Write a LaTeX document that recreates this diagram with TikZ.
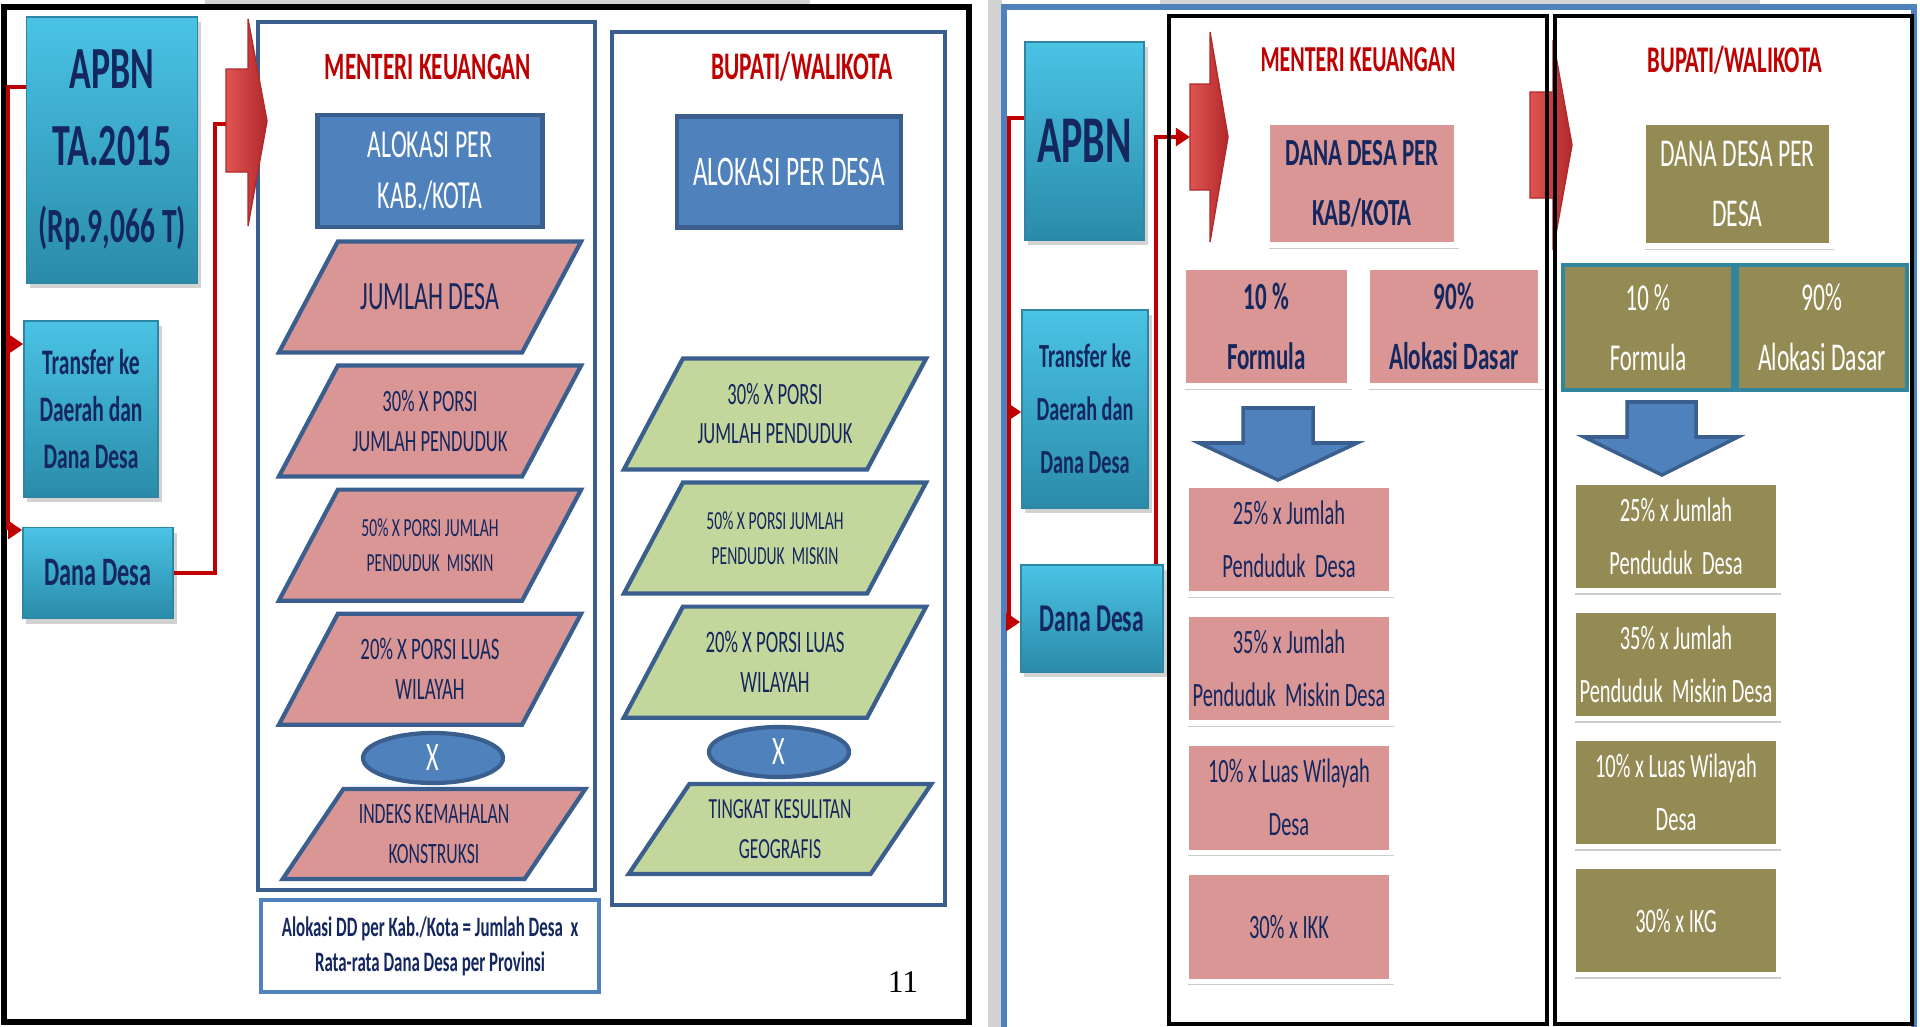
\documentclass[tikz,border=0pt]{standalone}
\usepackage{fontspec}
\setmainfont{Carlito}[FakeStretch=0.6]
\newfontfamily\pagefont{Liberation Serif}
\usetikzlibrary{positioning,shapes.geometric,shadows,arrows.meta}
\definecolor{navy}{HTML}{14275F}
\definecolor{headred}{HTML}{C00000}
\definecolor{linkred}{HTML}{C00000}
\definecolor{cyantop}{HTML}{4AC3E5}
\definecolor{cyanbot}{HTML}{2A8BA9}
\definecolor{cyanedge}{HTML}{2E86A2}
\definecolor{accblue}{HTML}{4F81BD}
\definecolor{accdark}{HTML}{3A5F8E}
\definecolor{ddpink}{HTML}{D99694}
\definecolor{ddlime}{HTML}{C3D69B}
\definecolor{ddolive}{HTML}{948A54}
\definecolor{ddteal}{HTML}{31859C}
\definecolor{arrowA}{HTML}{DE5552}
\definecolor{arrowB}{HTML}{B3292B}
\definecolor{band}{HTML}{D3D3D3}
\newcommand{\fsz}[2]{\fontsize{#1}{#2}\selectfont}

\begin{document}
\begin{tikzpicture}
[x=0.01cm, y=-0.01cm, node distance=1.24cm, font=\small]
\tikzstyle{srcbox}=[rectangle, draw=cyanedge, top color=cyantop, bottom color=cyanbot, text=navy, align=center, inner sep=1pt, drop shadow={opacity=0.35, shadow xshift=1pt, shadow yshift=-1.5pt}]
\tikzstyle{ttl}=[text=headred, inner sep=1pt]
\tikzstyle{bluebox}=[rectangle, draw=accdark, line width=1.2pt, fill=accblue, text=white, align=center]
\tikzstyle{para}=[trapezium, trapezium left angle=62, trapezium right angle=118, trapezium stretches body, draw=accdark, line width=1.2pt, text=navy, minimum width=3cm, minimum height=1.11cm, inner xsep=2pt, inner ysep=0.105cm, execute at begin node={\begin{minipage}[c][0.9cm][c]{1.70cm}\centering}, execute at end node={\end{minipage}}]
\tikzstyle{parashort}=[trapezium, trapezium left angle=56, trapezium right angle=124, trapezium stretches body, draw=accdark, line width=1.2pt, text=navy, minimum width=3.02cm, minimum height=0.9cm, inner xsep=2pt, inner ysep=0.105cm, execute at begin node={\begin{minipage}[c][0.69cm][c]{1.67cm}\centering}, execute at end node={\end{minipage}}]
\tikzstyle{xoval}=[ellipse, draw=accdark, line width=1.2pt, fill=accblue, text=white, minimum width=1.4cm, minimum height=0.5cm, inner sep=0pt, font=\fsz{11.5}{12}]
\tikzstyle{card}=[rectangle, draw=white, line width=1.5pt, align=center, inner sep=1pt, drop shadow={opacity=0.4, shadow xshift=0.5pt, shadow yshift=-1.2pt}]
\tikzstyle{tealbox}=[rectangle, draw=ddteal, line width=1.2pt, fill=ddolive, text=white, align=center, inner sep=1pt]
\tikzstyle{redline}=[draw=linkred, line width=1.3pt]
\tikzstyle{arr}=[-{Triangle[length=4pt, width=5pt]}]
\tikzstyle{bigarrow}=[left color=arrowA, right color=arrowB, draw=arrowB, line width=0.4pt]
\tikzstyle{downarrow}=[fill=accblue, draw=accdark, line width=1pt]
\tikzstyle{panel}=[draw=accdark, line width=1pt]

\useasboundingbox (0,0) rectangle (1920,1027);
\fill[white] (0,0) rectangle (1920,1027);
\fill[band] (205,0) rectangle (810,5);
\fill[band] (1160,0) rectangle (1760,4);
\fill[band] (988,0) rectangle (1002,1027);
\draw[line width=1.6pt] (4,7) rectangle (969,1022);
\draw[draw=accblue, line width=1.6pt] (1004,7) rectangle (1914,1040);
\draw[panel] (258,22) rectangle (595,890);
\draw[panel] (612,32) rectangle (945,905);

\node[srcbox, minimum width=1.71cm, minimum height=2.66cm, font=\bfseries\fsz{17}{22}]	(A0)	at (112,150)	{APBN\\TA.2015\\{\fsz{14}{22}(Rp.9,066 T)}};
\node[srcbox, minimum width=1.34cm, minimum height=1.76cm, font=\bfseries\fsz{10.2}{13.3}]	(T0)	at (91,409)	{Transfer ke\\Daerah dan\\Dana Desa};
\node[srcbox, minimum width=1.50cm, minimum height=0.91cm, font=\bfseries\fsz{11.5}{14}]	(D0)	at (98,573)	{Dana Desa};

\node[ttl, font=\bfseries\fsz{11}{12}]	(MK0)	at (428,67)	{MENTERI KEUANGAN};
\node[bluebox, minimum width=2.25cm, minimum height=1.12cm, font=\fsz{11.3}{14.5}]	(K0)	at (430,171)	{ALOKASI PER\\KAB./KOTA};
\node[para, fill=ddpink, font=\fsz{11.4}{14}]	(J0)	at (430,297)	{JUMLAH DESA};
\node[para, fill=ddpink, font=\fsz{8.8}{11.1}, below of=J0]	(P0)	{30\% X PORSI\\JUMLAH PENDUDUK};
\node[para, fill=ddpink, font=\fsz{7.4}{10}, below of=P0]	(M0)	{50\% X PORSI JUMLAH\\PENDUDUK\ \ MISKIN};
\node[para, fill=ddpink, font=\fsz{8.9}{11.4}, below of=M0]	(W0)	{20\% X PORSI LUAS\\WILAYAH};
\node[xoval]	(X0)	at (433,758)	{X};
\node[parashort, fill=ddpink, font=\fsz{8.4}{11.4}]	(I0)	at (434,834)	{INDEKS KEMAHALAN\\KONSTRUKSI};
\node[rectangle, draw=accblue, line width=1.3pt, minimum width=3.38cm, minimum height=0.92cm, text=navy, align=center, font=\bfseries\fsz{8}{10}]	(F0)	at (430,946)	{Alokasi DD per Kab./Kota = Jumlah Desa\ \ x\\Rata-rata Dana Desa per Provinsi};

\node[ttl, font=\bfseries\fsz{11.1}{12}]	(BW1)	at (802,67)	{BUPATI/WALIKOTA};
\node[bluebox, minimum width=2.24cm, minimum height=1.11cm, font=\fsz{12}{14}]	(K1)	at (789,172)	{ALOKASI PER DESA};
\node[para, fill=ddlime, font=\fsz{8.8}{11.1}]	(P1)	at (775,414)	{30\% X PORSI\\JUMLAH PENDUDUK};
\node[para, fill=ddlime, font=\fsz{7.4}{10}, below of=P1]	(M1)	{50\% X PORSI JUMLAH\\PENDUDUK\ \ MISKIN};
\node[para, fill=ddlime, font=\fsz{8.9}{11.4}, below of=M1]	(W1)	{20\% X PORSI LUAS\\WILAYAH};
\node[xoval]	(X1)	at (779,752)	{X};
\node[parashort, fill=ddlime, font=\fsz{8.3}{11.4}]	(G1)	at (780,829)	{TINGKAT KESULITAN\\GEOGRAFIS};
\node[font=\pagefont\fsz{9}{10}]	(PG)	at (903,982)	{11};

\coordinate (V0) at (8,87);
\coordinate (V1) at (8,344);
\coordinate (V2) at (8,530);
\coordinate (UP0) at (215,124);
\coordinate (BA0) at (228,124);
\draw[redline] (A0.west |- V0) -- (V0) -- (V2);
\draw[redline, arr] (V1) -- (T0.west |- V1);
\draw[redline, arr] (V2) -- (D0.west |- V2);
\draw[redline] (D0.east) -| (UP0) -- (BA0);
\draw[bigarrow] (226,69) -- (248,69) -- (248,19) -- (267,121) -- (248,226) -- (248,172) -- (226,172) -- cycle;

\node[srcbox, minimum width=1.19cm, minimum height=1.98cm, font=\bfseries\fsz{19}{22}]	(A2)	at (1084.5,141)	{APBN};
\node[srcbox, minimum width=1.26cm, minimum height=1.98cm, font=\bfseries\fsz{9.6}{15}]	(T2)	at (1085,409)	{Transfer ke\\Daerah dan\\Dana Desa};
\node[srcbox, minimum width=1.42cm, minimum height=1.07cm, font=\bfseries\fsz{11.2}{14}]	(D2)	at (1092,618.5)	{Dana Desa};

\node[ttl, font=\bfseries\fsz{10.4}{12}]	(MK2)	at (1358,60)	{MENTERI KEUANGAN};
\node[card, fill=ddpink, text=navy, minimum width=1.90cm, minimum height=1.23cm, font=\bfseries\fsz{10.9}{17}]	(K2)	at (1362,183.5)	{DANA DESA PER\\KAB/KOTA};
\node[card, fill=ddpink, text=navy, minimum width=1.67cm, minimum height=1.19cm, font=\bfseries\fsz{10.9}{17}]	(R2)	at (1266.5,326.5)	{10 \%\\Formula};
\node[card, fill=ddpink, text=navy, minimum width=1.74cm, minimum height=1.19cm, font=\bfseries\fsz{11}{17}]	(S2)	at (1454,326.5)	{90\%\\Alokasi Dasar};
\node[card, fill=ddpink, text=navy, minimum width=2.06cm, minimum height=1.09cm, font=\fsz{9.7}{15}]	(E1)	at (1289,539.5)	{25\% x Jumlah\\Penduduk\ \ Desa};
\node[card, fill=ddpink, text=navy, minimum width=2.06cm, minimum height=1.09cm, font=\fsz{9.7}{15}, node distance=1.29cm, below of=E1]	(E2)	{35\% x Jumlah\\Penduduk\ \ Miskin Desa};
\node[card, fill=ddpink, text=navy, minimum width=2.06cm, minimum height=1.09cm, font=\fsz{9.7}{15}, node distance=1.29cm, below of=E2]	(E3)	{10\% x Luas Wilayah\\Desa};
\node[card, fill=ddpink, text=navy, minimum width=2.06cm, minimum height=1.09cm, font=\fsz{9.7}{15}, node distance=1.29cm, below of=E3]	(E4)	{30\% x IKK};

\node[ttl, font=\bfseries\fsz{10.7}{12}]	(BW3)	at (1735,60)	{BUPATI/WALIKOTA};
\node[card, fill=ddolive, text=white, minimum width=1.89cm, minimum height=1.24cm, font=\fsz{11.2}{17}]	(K3)	at (1737.5,184)	{DANA DESA PER\\DESA};
\node[tealbox, minimum width=1.70cm, minimum height=1.25cm, font=\fsz{10.8}{17}]	(R3)	at (1648,327.5)	{10 \%\\Formula};
\node[tealbox, minimum width=1.70cm, minimum height=1.25cm, font=\fsz{11.2}{17}]	(S3)	at (1822,327.5)	{90\%\\Alokasi Dasar};
\node[card, fill=ddolive, text=white, minimum width=2.06cm, minimum height=1.08cm, font=\fsz{9.7}{15}]	(H1)	at (1676,536.5)	{25\% x Jumlah\\Penduduk\ \ Desa};
\node[card, fill=ddolive, text=white, minimum width=2.06cm, minimum height=1.08cm, font=\fsz{9.7}{15}, node distance=1.28cm, below of=H1]	(H2)	{35\% x Jumlah\\Penduduk\ \ Miskin Desa};
\node[card, fill=ddolive, text=white, minimum width=2.06cm, minimum height=1.08cm, font=\fsz{9.7}{15}, node distance=1.28cm, below of=H2]	(H3)	{10\% x Luas Wilayah\\Desa};
\node[card, fill=ddolive, text=white, minimum width=2.06cm, minimum height=1.08cm, font=\fsz{9.7}{15}, node distance=1.28cm, below of=H3]	(H4)	{30\% x IKG};

\coordinate (V3) at (1009,118);
\coordinate (V4) at (1009,412);
\coordinate (V5) at (1009,622);
\coordinate (UP2) at (1156,137);
\coordinate (BA2) at (1190,137);
\draw[redline] (A2.west |- V3) -- (V3) -- (V5);
\draw[redline, arr] (V4) -- (T2.west |- V4);
\draw[redline, arr] (V5) -- (D2.west |- V5);
\draw[redline, arr] (D2.north -| UP2) -- (UP2) -- (BA2);
\draw[bigarrow] (1190,84) -- (1210,84) -- (1210,32) -- (1228,137) -- (1210,242) -- (1210,190) -- (1190,190) -- cycle;
\draw[bigarrow] (1530,92) -- (1553,92) -- (1553,40) -- (1572,145) -- (1553,250) -- (1553,198) -- (1530,198) -- cycle;
\draw[downarrow] (1243,408) -- (1313,408) -- (1313,443) -- (1357,443) -- (1278,480) -- (1199,443) -- (1243,443) -- cycle;
\draw[downarrow] (1627,402) -- (1696,402) -- (1696,437) -- (1738,437) -- (1662,475) -- (1584,437) -- (1627,437) -- cycle;

\draw[line width=1.2pt] (1169,16) rectangle (1547,1024);
\draw[line width=1.2pt] (1555,16) rectangle (1912,1024);
\end{tikzpicture}
\end{document}
